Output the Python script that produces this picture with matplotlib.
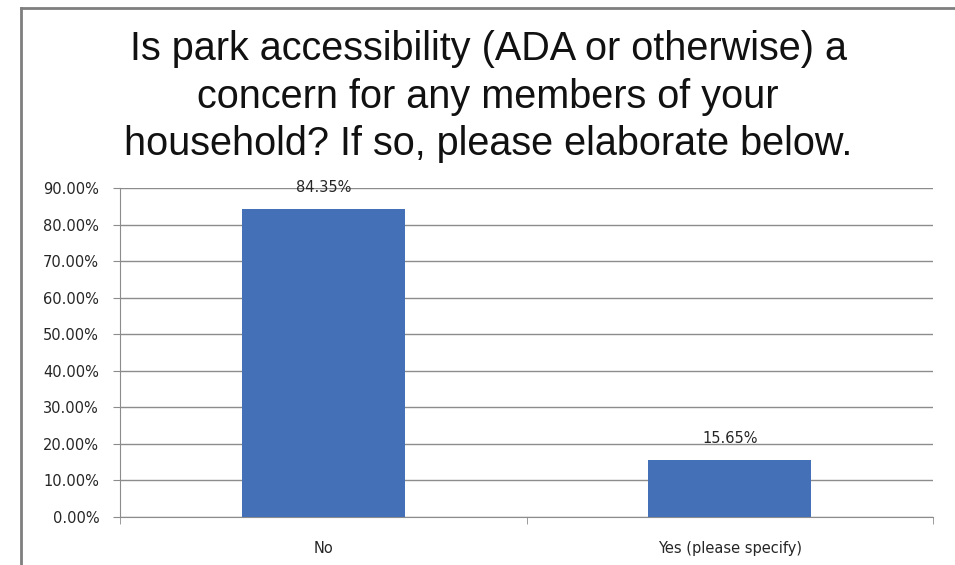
import matplotlib.pyplot as plt
from matplotlib.lines import Line2D
from matplotlib import font_manager
import numpy as np

plt.rcParams['font.family'] = ['Liberation Sans', 'DejaVu Sans']

categories = ['No', 'Yes (please specify)']
shares = [0.8435, 0.1565]
yticks = [0.0, 0.1, 0.2, 0.3, 0.4, 0.5, 0.6, 0.7, 0.8, 0.9]
title = 'Is park accessibility (ADA or otherwise) a\nconcern for any members of your\nhousehold? If so, please elaborate below.'

W, H = 955, 565
small = dict(family='DejaVu Sans', fontsize=10.5, color='#262626')

# pin the regular (not narrow) Liberation Sans for the title
reg = [f.fname for f in font_manager.fontManager.ttflist
       if f.name == 'Liberation Sans' and f.style == 'normal' and f.weight in (400, 'normal')
       and 'Narrow' not in f.fname]
if reg:
    title_font = font_manager.FontProperties(fname=reg[0], size=28.5)
else:
    title_font = font_manager.FontProperties(family='DejaVu Sans', size=26)

fig = plt.figure(figsize=[W / 100, H / 100], dpi=100)
ax = fig.add_axes([120 / W, (H - 517) / H, (933 - 120) / W, (517 - 188) / H])

x = np.arange(len(categories))
ax.bar(x, shares, width=0.4, color='#4470B8', zorder=3)
for xi, v in zip(x, shares):
    ax.annotate('{:.2f}%'.format(v * 100), (xi, v), xytext=(0, 15), textcoords='offset points',
                ha='center', va='center', zorder=4, **small)

ax.set_xlim(-0.5, len(categories) - 0.5)
ax.set_ylim(0, 0.9)
ax.set_yticks(yticks)
ax.set_yticklabels(['{:.2f}%'.format(t * 100) for t in yticks], **small)
ax.yaxis.grid(True, color='#8c8c8c', linewidth=1.0, zorder=0)

# category labels sit between the boundary ticks
ax.set_xticks(x)
ax.set_xticklabels(categories, **small)
ax.tick_params(axis='x', length=0, pad=17)
ax.set_xticks(np.arange(len(categories) + 1) - 0.5, minor=True)
ax.tick_params(axis='x', which='minor', length=5, color='#8c8c8c', direction='out')
ax.tick_params(axis='y', length=5, color='#8c8c8c', direction='out', pad=10)

for s in ['top', 'right']:
    ax.spines[s].set_visible(False)
ax.spines['left'].set_color('#8c8c8c')
ax.spines['bottom'].set_color('#8c8c8c')

fig.suptitle(title, x=488 / W, y=1 - 30 / H, fontproperties=title_font, linespacing=1.32,
             va='top', color='#111111')

# chart frame (only the left and top edges are in view)
fig.add_artist(Line2D([21 / W, 21 / W], [0.0, 1 - 8 / H], color='#7f7f7f', linewidth=2))
fig.add_artist(Line2D([21 / W, 1.0], [1 - 8 / H, 1 - 8 / H], color='#7f7f7f', linewidth=2))

plt.savefig('out.png', dpi=100)
